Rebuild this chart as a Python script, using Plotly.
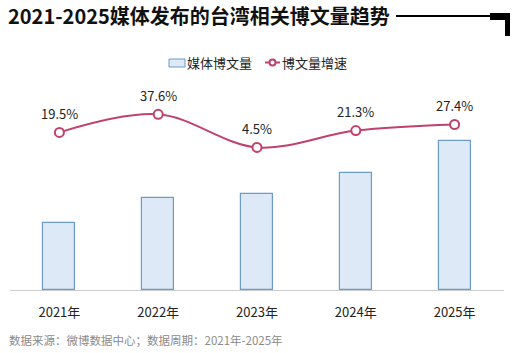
import plotly.graph_objects as go

years = ["2021年", "2022年", "2023年", "2024年", "2025年"]
posts = [67, 92, 96, 117, 149]          # 媒体博文量 (relative)
growth = [19.5, 37.6, 4.5, 21.3, 27.4]  # 博文量增速 (%)
series_names = ["媒体博文量", "博文量增速"]

FONT = "Noto Sans CJK SC"
BAR_FILL, BAR_LINE, LINE_C = "#dde9f6", "#6b9bc8", "#c0426c"
L, R, T, B = 10, 16, 75, 63
W, H = 520, 353
PW, PH = W - L - R, H - T - B

def px(x):
    return (x - L) / PW

def py(y):
    return (H - B - y) / PH

fig = go.Figure()
fig.add_trace(go.Bar(
    x=years, y=posts, name=series_names[0], width=0.325,
    marker=dict(color=BAR_FILL, line=dict(color=BAR_LINE, width=1.2)),
    yaxis="y",
))
fig.add_trace(go.Scatter(
    x=years, y=growth, name=series_names[1], mode="lines+markers",
    line=dict(color=LINE_C, width=2, shape="spline", smoothing=1.0),
    marker=dict(symbol="circle", size=9, color="white",
                line=dict(color=LINE_C, width=2)),
    yaxis="y2",
))

annotations = []
for yr, g in zip(years, growth):
    annotations.append(dict(
        x=yr, y=g, xref="x", yref="y2", text=f"{g}%", showarrow=False,
        yshift=19, font=dict(family=FONT, size=13, color="#222222"),
    ))
annotations.append(dict(
    x=px(7), y=py(340), xref="paper", yref="paper", xanchor="left", yanchor="middle",
    text="数据来源：微博数据中心；数据周期：2021年-2025年", showarrow=False,
    font=dict(family=FONT, size=11.5, color="#8a8a8a"),
))
# legend texts
annotations.append(dict(
    x=px(185), y=py(62.5), xref="paper", yref="paper", xanchor="left", yanchor="middle",
    text=series_names[0], showarrow=False, font=dict(family=FONT, size=13, color="#222222"),
))
annotations.append(dict(
    x=px(280), y=py(62.5), xref="paper", yref="paper", xanchor="left", yanchor="middle",
    text=series_names[1], showarrow=False, font=dict(family=FONT, size=13, color="#222222"),
))

shapes = [
    dict(type="line", xref="paper", yref="paper", x0=px(396), x1=px(492), y0=py(16), y1=py(16),
         line=dict(color="black", width=2)),
    dict(type="rect", xref="paper", yref="paper", x0=px(490), x1=px(510), y0=py(20), y1=py(13),
         fillcolor="black", line=dict(width=0)),
    dict(type="rect", xref="paper", yref="paper", x0=px(505), x1=px(510), y0=py(36), y1=py(13),
         fillcolor="black", line=dict(width=0)),
    # legend swatches
    dict(type="rect", xref="paper", yref="paper", x0=px(169), x1=px(185), y0=py(67), y1=py(59),
         fillcolor=BAR_FILL, line=dict(color=BAR_LINE, width=1)),
    dict(type="line", xref="paper", yref="paper", x0=px(265), x1=px(280), y0=py(62.5), y1=py(62.5),
         line=dict(color=LINE_C, width=2)),
    dict(type="circle", xref="paper", yref="paper", x0=px(269.5), x1=px(275.5), y0=py(65.5), y1=py(59.5),
         fillcolor="white", line=dict(color=LINE_C, width=2)),
]

fig.update_layout(
    width=W, height=H,
    margin=dict(l=L, r=R, t=T, b=B),
    paper_bgcolor="white", plot_bgcolor="white",
    title=dict(text="<b>2021-2025媒体发布的台湾相关博文量趋势</b>", xref="container", yref="container",
               x=8 / W, y=1 - 17 / H, xanchor="left", yanchor="middle",
               font=dict(family=FONT, size=20, color="#111111")),
    font=dict(family=FONT, size=13, color="#222222"),
    showlegend=False,
    xaxis=dict(type="category", range=[-0.5, 4.5], showgrid=False, showline=True,
               linecolor="#cccccc", linewidth=1, ticks="", ticklabelstandoff=10,
               tickfont=dict(family=FONT, size=13, color="#222222"), fixedrange=True),
    yaxis=dict(range=[0, PH], showgrid=False, showticklabels=False, zeroline=False,
               showline=False),
    yaxis2=dict(range=[37.6 - (H - B - 114.3), 37.6 + (114.3 - T)], overlaying="y",
                showgrid=False, showticklabels=False, zeroline=False, showline=False),
    annotations=annotations,
    shapes=shapes,
    bargap=0.0,
)

fig.write_html("out.html")
